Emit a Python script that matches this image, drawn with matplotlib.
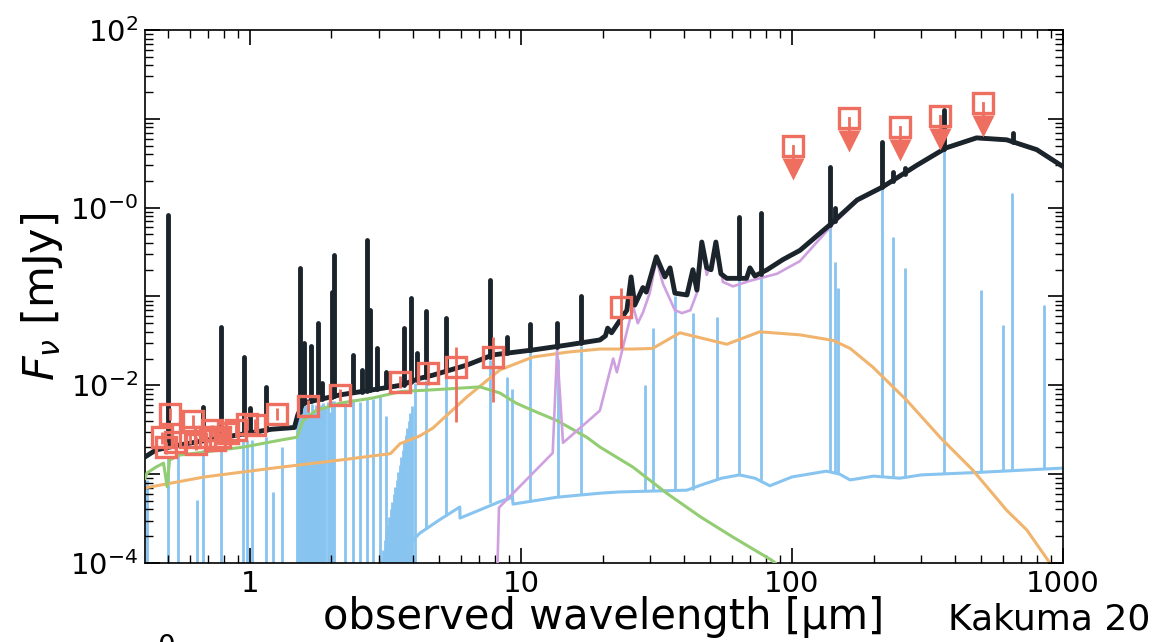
###############################################################################
## SED fit plot: total model, components and photometry
###############################################################################

import numpy as np
import matplotlib
matplotlib.use('Agg')
import matplotlib.pyplot as plt
from matplotlib.ticker import NullFormatter, LogLocator

###############################################################################
## Data (wavelength in micron, flux density in mJy)
###############################################################################

# Total model continuum (black)
wave_total = [0.41, 0.45, 0.55, 0.70, 0.90, 1.20, 1.46, 1.50, 1.57, 2.15, 2.84,
              3.60, 4.24, 4.73, 6.32, 7.88, 11.07, 14.8, 19.56, 20.5, 20.9,
              21.6, 23.2, 24.6, 25.5, 26.3, 28.2, 29.0, 31.6, 34.0, 35.5, 37.0,
              41.0, 43.1, 44.6, 46.5, 48.5, 50.3, 52.4, 54.7, 57.5, 68.0, 70.0,
              73.0, 81.0, 92.6, 107, 138, 174, 216, 289, 370, 480, 620, 800,
              1000]
flux_total = [1.56e-3, 1.87e-3, 2.13e-3, 2.42e-3, 2.76e-3, 3.2e-3, 3.35e-3,
              4.6e-3, 6.3e-3, 7.8e-3, 8.9e-3, 1.0e-2, 1.2e-2, 1.3e-2, 1.69e-2,
              2.2e-2, 2.5e-2, 2.84e-2, 3.24e-2, 3.6e-2, 4.4e-2, 3.9e-2, 5.4e-2,
              7.0e-2, 0.166, 8.0e-2, 0.126, 0.112, 0.28, 0.166, 0.21, 0.109,
              0.104, 0.2, 0.118, 0.41, 0.21, 0.2, 0.41, 0.18, 0.16, 0.16, 0.21,
              0.17, 0.2, 0.26, 0.33, 0.64, 1.22, 1.71, 3.0, 4.7, 6.1, 5.8, 4.5,
              2.9]

# Emission lines on the total model: wavelength, foot, peak
line_wave_total = [0.498, 0.671, 0.782, 0.951, 1.0, 1.146, 1.53, 1.58, 1.68,
                   1.78, 1.844, 2.007, 2.042, 2.40, 2.589, 2.70, 2.772, 2.942,
                   3.176, 3.70, 3.927, 4.13, 4.459, 5.285, 7.68, 8.88, 10.8,
                   13.58, 16.64, 63.7, 76.9, 138, 144, 215, 236, 261, 364, 654]
line_base_total = [2.1e-3, 2.4e-3, 2.5e-3, 2.8e-3, 2.9e-3, 3.1e-3, 5.0e-3,
                   6.3e-3, 6.6e-3, 6.8e-3, 7.0e-3, 7.4e-3, 7.5e-3, 8.3e-3,
                   8.5e-3, 8.7e-3, 8.8e-3, 9.0e-3, 9.5e-3, 1.02e-2, 1.1e-2,
                   1.15e-2, 1.25e-2, 1.5e-2, 2.1e-2, 2.3e-2, 2.5e-2, 2.7e-2,
                   3.0e-2, 0.16, 0.18, 0.64, 0.7, 1.7, 2.0, 2.4, 4.6, 5.5]
line_peak_total = [0.83, 5.7e-3, 0.045, 0.021, 5.6e-3, 9.5e-3, 0.21, 0.03,
                   0.028, 0.05, 1.06e-2, 0.112, 0.29, 0.022, 1.5e-2, 0.43, 0.07,
                   0.026, 1.4e-2, 0.044, 0.096, 0.023, 0.068, 0.057, 0.153,
                   0.035, 0.049, 0.05, 0.1, 0.79, 0.87, 2.87, 1.0, 5.5, 2.5, 2.8,
                   12.6, 6.9]

# Nebular component continuum (blue)
wave_neb = [3.05, 3.58, 4.24, 5.0, 5.95, 5.96, 8.36, 9.3, 9.35, 13.6, 19.56,
            23.0, 41.0, 46.0, 55.0, 64.0, 73.0, 82.9, 100, 134, 150, 164, 200,
            250, 300, 500, 1000]
flux_neb = [8.0e-5, 1.3e-4, 2.17e-4, 3.05e-4, 4.27e-4, 3.2e-4, 4.9e-4, 5.5e-4,
            4.6e-4, 5.5e-4, 6.1e-4, 6.3e-4, 6.6e-4, 7.5e-4, 9.0e-4, 9.8e-4,
            9.0e-4, 7.4e-4, 9.3e-4, 1.08e-3, 1.0e-3, 8.6e-4, 9.5e-4, 9.0e-4,
            9.8e-4, 1.05e-3, 1.17e-3]

# Nebular emission lines: wavelength, foot, peak
line_wave_neb = [0.417, 0.498, 0.542, 0.637, 0.671, 0.782, 0.942, 0.975, 1.02,
                 1.146, 1.216, 1.313,
                 1.49, 1.50, 1.52, 1.54, 1.56, 1.58, 1.60, 1.62, 1.64, 1.66,
                 1.69, 1.72, 1.75, 1.78, 1.80, 1.83, 1.86, 1.90, 1.94, 1.98,
                 2.01, 2.04, 2.24, 2.40, 2.55, 2.70, 2.84, 3.02, 3.18,
                 3.07, 3.11, 3.15, 3.19, 3.23, 3.27, 3.31, 3.35, 3.40, 3.44,
                 3.48, 3.53, 3.58, 3.62, 3.67, 3.71, 3.76, 3.81, 3.86, 3.91,
                 3.96, 4.06,
                 4.46, 5.285, 7.68, 8.88, 9.27, 10.8, 13.7, 16.64, 28.6, 30.6,
                 37.0, 43.1, 52.9, 63.7, 76.9, 138, 144, 148, 215, 236, 261,
                 364, 500, 601, 648, 851]
line_base_neb = [1e-5] * 41 + [1e-5] * 22 + [
                 2.4e-4, 3.4e-4, 4.7e-4, 5.1e-4, 5.5e-4, 4.8e-4, 5.5e-4,
                 5.8e-4, 6.4e-4, 6.4e-4, 6.5e-4, 6.7e-4, 8.5e-4, 9.8e-4,
                 8.5e-4, 1.07e-3, 1.05e-3, 1.02e-3, 9.4e-4, 9.2e-4, 9.0e-4,
                 1.0e-3, 1.05e-3, 1.08e-3, 1.1e-3, 1.15e-3]
line_peak_neb = [8.6e-4, 1.56e-3, 1.73e-3, 5.1e-4, 1.87e-3, 1.87e-3, 2.4e-3,
                 2.4e-3, 2.4e-3, 2.6e-3, 6.3e-4, 2.0e-3,
                 3.5e-3, 4.5e-3, 5.5e-3, 5.0e-3, 5.8e-3, 5.5e-3, 6.0e-3,
                 5.2e-3, 6.0e-3, 4.5e-3, 6.2e-3, 5.0e-3, 6.0e-3, 6.3e-3,
                 4.8e-3, 6.0e-3, 6.4e-3, 5.5e-3, 6.5e-3, 5.0e-3, 6.6e-3,
                 6.6e-3, 6.5e-3, 7.0e-3, 6.5e-3, 7.2e-3, 7.0e-3, 7.5e-3, 4.5e-3,
                 1.1e-4, 1.4e-4, 1.8e-4, 2.2e-4, 2.7e-4, 3.3e-4, 4.0e-4,
                 4.9e-4, 6.0e-4, 7.2e-4, 8.6e-4, 1.05e-3, 1.27e-3, 1.55e-3,
                 1.87e-3, 2.3e-3, 2.76e-3, 3.3e-3, 4.0e-3, 4.9e-3, 5.9e-3,
                 1.05e-2,
                 1.15e-2, 1.4e-2, 1.93e-2, 1.24e-2, 9.0e-3, 2.42e-2, 2.0e-2,
                 2.8e-2, 1.0e-2, 4.4e-2, 0.1, 6.6e-2, 5.9e-2, 0.16, 0.18, 0.64,
                 0.245, 0.125, 1.65, 0.47, 0.21, 4.5, 0.117, 0.048, 1.46, 0.08]

# Attenuated stellar component (green)
wave_star = [0.41, 0.417, 0.45, 0.48, 0.495, 0.505, 0.55, 0.64, 0.95, 1.3,
             1.49, 1.57, 1.75, 2.15, 2.84, 3.6, 4.73, 6.32, 7.06, 8.36, 9.6,
             11.07, 13.6, 17.5, 19.56, 25.9, 34.5, 46.0, 60.5, 84.0, 95.0]
flux_star = [9.0e-4, 1.03e-3, 1.2e-3, 1.33e-3, 7.2e-4, 1.44e-3, 1.64e-3,
             1.73e-3, 2.02e-3, 2.42e-3, 2.6e-3, 4.0e-3, 5.2e-3, 6.3e-3, 7.2e-3,
             8.5e-3, 8.9e-3, 9.4e-3, 9.6e-3, 8.2e-3, 6.3e-3, 5.2e-3, 4.0e-3,
             2.6e-3, 2.02e-3, 1.2e-3, 6.1e-4, 3.3e-4, 1.96e-4, 1.08e-4, 8.0e-5]

# Dust emission (orange)
wave_dust = [0.41, 0.68, 1.22, 2.15, 3.3, 3.58, 4.24, 4.73, 6.32, 8.36, 11.07,
             14.8, 19.56, 25.9, 30.6, 38.6, 57.5, 76.0, 107, 142, 164, 199,
             265, 352, 465, 621, 736, 895, 950]
flux_dust = [7.0e-4, 9.3e-4, 1.17e-3, 1.44e-3, 1.7e-3, 2.2e-3, 2.7e-3, 3.3e-3,
             7.4e-3, 1.49e-2, 2.08e-2, 2.36e-2, 2.56e-2, 2.56e-2, 2.6e-2,
             3.9e-2, 2.9e-2, 4.0e-2, 3.7e-2, 3.2e-2, 2.6e-2, 1.6e-2, 6.8e-3,
             2.6e-3, 1.11e-3, 3.9e-4, 2.35e-4, 1.0e-4, 7.0e-5]

# AGN / warm dust component (purple)
wave_agn = [8.15, 8.3, 13.1, 13.6, 14.3, 18.4, 19.56, 20.9, 21.9, 22.6, 23.8,
            25.2, 26.0, 27.0, 28.2, 29.9, 31.6, 33.4, 37.0, 39.3, 42.2, 45.0,
            46.5, 48.5, 52.9, 55.6, 60.6, 70.0, 88.0, 107, 141, 174, 216, 289,
            370, 480, 620, 800, 1000]
flux_agn = [5.0e-5, 4.2e-4, 1.73e-3, 2.5e-2, 2.25e-3, 4.4e-3, 5.2e-3, 1.15e-2,
            2.0e-2, 1.4e-2, 2.7e-2, 5.4e-2, 7.5e-2, 5.0e-2, 6.6e-2, 0.11, 0.26,
            0.14, 7.0e-2, 6.5e-2, 7.0e-2, 0.118, 0.36, 0.175, 0.36, 0.146,
            0.13, 0.15, 0.18, 0.25, 0.64, 1.18, 1.66, 2.92, 4.6, 6.0, 5.7, 4.4,
            2.85]

# Photometry: wavelength, flux, lower and upper end of error bar
obs_wave = [0.474, 0.49, 0.507, 0.529, 0.601, 0.616, 0.63, 0.682, 0.724,
            0.745, 0.775, 0.83, 0.888, 0.975, 1.043, 1.258, 1.637, 2.148,
            3.577, 4.54, 5.75, 7.9, 23.5]
obs_flux = [2.6e-3, 2.0e-3, 4.8e-3, 2.3e-3, 2.6e-3, 4.0e-3, 2.2e-3, 2.6e-3,
            3.1e-3, 2.4e-3, 2.6e-3, 2.9e-3, 3.1e-3, 3.7e-3, 3.6e-3, 4.8e-3,
            5.9e-3, 7.7e-3, 1.09e-2, 1.36e-2, 1.6e-2, 2.1e-2, 7.6e-2]
obs_lo = [2.2e-3, 1.7e-3, 4.1e-3, 1.9e-3, 2.2e-3, 3.5e-3, 1.85e-3, 2.2e-3,
          2.6e-3, 2.0e-3, 2.2e-3, 2.4e-3, 2.6e-3, 3.1e-3, 3.0e-3, 4.1e-3,
          5.0e-3, 6.6e-3, 9.3e-3, 1.0e-2, 3.86e-3, 6.5e-3, 2.6e-2]
obs_hi = [3.0e-3, 2.3e-3, 5.6e-3, 2.7e-3, 3.0e-3, 4.6e-3, 2.6e-3, 3.0e-3,
          3.6e-3, 2.8e-3, 3.0e-3, 3.4e-3, 3.6e-3, 4.3e-3, 4.2e-3, 5.6e-3,
          6.9e-3, 9.0e-3, 1.28e-2, 1.82e-2, 2.73e-2, 3.5e-2, 0.125]

# Upper limits (far-IR)
ul_wave = [100.9, 163, 250, 352, 509]
ul_flux = [4.9, 10.2, 8.1, 10.8, 15.1]

###############################################################################
## Styles
###############################################################################

c_total = '#1b232b'
c_neb = '#88c4f0'
c_star = '#93cd73'
c_dust = '#f0b46e'
c_agn = '#cfa0e0'
c_obs = '#ee6e5f'
arrow_drop = 0.55      # position of the arrow head relative to the limit

###############################################################################
## Plot
###############################################################################

fig = plt.figure(figsize=(11.58, 6.42), dpi=100)
ax = fig.add_axes([0.1252, 0.1231, 0.7927, 0.8302])

# nebular
ax.vlines(line_wave_neb, line_base_neb, line_peak_neb, colors=c_neb,
          linewidth=2.0, zorder=1)
ax.plot(wave_neb, flux_neb, color=c_neb, linewidth=2.2, zorder=1.1,
        solid_joinstyle='round')

# dust, stars, agn
ax.plot(wave_dust, flux_dust, color=c_dust, linewidth=2.2, zorder=2)
ax.plot(wave_star, flux_star, color=c_star, linewidth=2.2, zorder=3)
ax.plot(wave_agn, flux_agn, color=c_agn, linewidth=1.9, zorder=4)

# total
lc = ax.vlines(line_wave_total, line_base_total, line_peak_total,
               colors=c_total, linewidth=3.5, zorder=5)
lc.set_capstyle('round')
ax.plot(wave_total, flux_total, color=c_total, linewidth=3.5, zorder=5,
        solid_joinstyle='round', solid_capstyle='round')

# photometry
obs_flux_arr = np.array(obs_flux)
yerr = [obs_flux_arr - np.array(obs_lo), np.array(obs_hi) - obs_flux_arr]
ax.errorbar(obs_wave, obs_flux, yerr=yerr, fmt='s', ms=14.5, mfc='none',
            mec=c_obs, mew=2.4, ecolor=c_obs, elinewidth=2.0, capsize=0,
            zorder=6)

# upper limits
ul_head = np.array(ul_flux) * arrow_drop
for xw, yf, yh in zip(ul_wave, ul_flux, ul_head):
    ax.plot([xw, xw], [yf, yh], color=c_obs, linewidth=2.0, zorder=6)
ax.plot(ul_wave, ul_flux, 's', ms=14.5, mfc='none', mec=c_obs, mew=2.4,
        zorder=6)
ax.plot(ul_wave, ul_head, 'v', ms=16, color=c_obs, mec='none', zorder=6)

###############################################################################
## Axes
###############################################################################

ax.set_xscale('log')
ax.set_yscale('log')
ax.set_xlim(0.41, 1000)
ax.set_ylim(1e-4, 1e2)

ax.set_xticks([1, 10, 100, 1000])
ax.set_xticklabels(['1', '10', '100', '1000'])
ax.xaxis.set_minor_locator(LogLocator(base=10, subs='auto', numticks=20))
ax.xaxis.set_minor_formatter(NullFormatter())

ax.set_yticks([1e-4, 1e-3, 1e-2, 1e-1, 1e0, 1e1, 1e2])
ax.set_yticklabels([r'$10^{-4}$', '', r'$10^{-2}$', '', r'$10^{-0}$', '',
                    r'$10^{2}$'])
ax.yaxis.set_minor_locator(LogLocator(base=10, subs='auto', numticks=20))
ax.yaxis.set_minor_formatter(NullFormatter())

ax.tick_params(which='both', direction='in', top=True, right=True,
               labelsize=21, pad=5)
ax.tick_params(which='major', length=11, width=1.2)
ax.tick_params(which='minor', length=5.5, width=1.0)
for sp in ax.spines.values():
    sp.set_linewidth(1.2)

ax.set_xlabel('observed wavelength [µm]', fontsize=30)
ax.xaxis.set_label_coords(0.5, -0.062)
ax.set_ylabel(r'$F_\nu$ [mJy]', fontsize=31)
ax.yaxis.set_label_coords(-0.087, 0.5)

fig.text(0.8187, 0.0187, 'Kakuma 20', fontsize=26, va='baseline')
fig.text(0.1356, -0.0205, '0', fontsize=20, va='baseline')

fig.savefig('out.png', dpi=100)
